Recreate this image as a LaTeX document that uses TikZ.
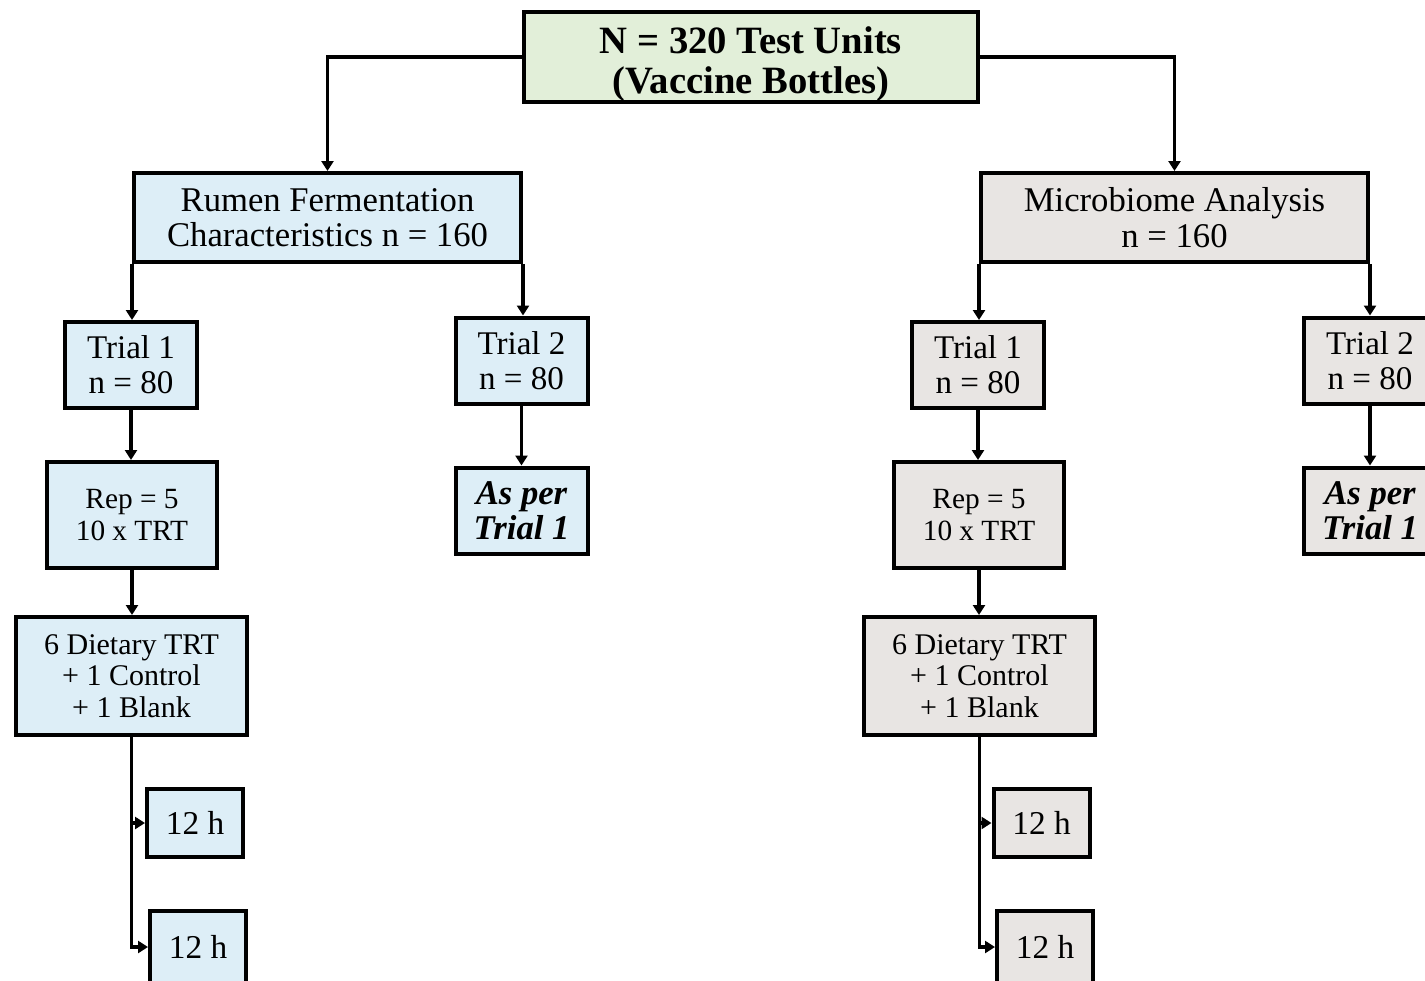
\documentclass[tikz,border=0pt]{standalone}
\usepackage{fontspec}
\setmainfont{Liberation Serif}
\usetikzlibrary{arrows.meta}
\definecolor{fgreen}{HTML}{E2EFD9}
\definecolor{fblue}{HTML}{DDEEF7}
\definecolor{fgray}{HTML}{E8E5E3}
\tikzset{
  box/.style={draw=black, line width=3pt, inner sep=0pt, align=center},
  topbox/.style={box, fill=fgreen, minimum width=340.5pt, minimum height=64.5pt, font=\fontsize{29}{30}\selectfont\bfseries},
  bigbox/.style={box, minimum width=290.25pt, minimum height=66.75pt, font=\fontsize{26}{26.5}\selectfont},
  trialbox/.style={box, minimum width=99pt, minimum height=64.5pt, font=\fontsize{24.8}{26}\selectfont},
  asbox/.style={trialbox, font=\fontsize{26}{26}\selectfont\bfseries\itshape},
  repbox/.style={box, minimum width=127.5pt, minimum height=79.5pt, font=\fontsize{22}{24}\selectfont},
  dietbox/.style={box, minimum width=173.25pt, minimum height=88.5pt, font=\fontsize{22.5}{23.6}\selectfont},
  hbox/.style={box, minimum width=72pt, minimum height=51pt, font=\fontsize{25}{26}\selectfont},
  blue/.style={fill=fblue},
  gray/.style={fill=fgray},
  arr/.style={line width=2.6pt, -{Triangle[width=9pt,length=7.5pt]}}
}
\begin{document}
\begin{tikzpicture}[x=0.75pt,y=-0.75pt]
\useasboundingbox (0,0) rectangle (1425,981);
\clip (0,0) rectangle (1425,981);
% top
\node[topbox] (top) at (751,57) {\rule{0pt}{31pt}N = 320 Test Units\\(Vaccine Bottles)};
% left branch
\node[bigbox, blue] (rumen) at (327.5,217.5) {Rumen Fermentation\\Characteristics n = 160};
\node[trialbox, blue] (t1L) at (131,365) {Trial 1\\n = 80};
\node[trialbox, blue] (t2L) at (521.5,360.5) {Trial 2\\n = 80};
\node[asbox, blue] (asL) at (521.5,510.5) {As per\\Trial 1};
\node[repbox, blue] (repL) at (132,515) {Rep = 5\\10 x TRT};
\node[dietbox, blue] (dietL) at (131.5,676) {6 Dietary TRT\\+ 1 Control\\+ 1 Blank};
\node[hbox, blue] (h1L) at (195,823) {12 h};
\node[hbox, blue, minimum height=54pt] (h2L) at (198,947) {12 h};
% right branch
\node[bigbox, gray] (micro) at (1174.5,217.5) {Microbiome Analysis\\n = 160};
\node[trialbox, gray] (t1R) at (978,365) {Trial 1\\n = 80};
\node[trialbox, gray] (t2R) at (1370,360.5) {Trial 2\\n = 80};
\node[asbox, gray] (asR) at (1370,510.5) {As per\\Trial 1};
\node[repbox, gray] (repR) at (979,515) {Rep = 5\\10 x TRT};
\node[dietbox, gray] (dietR) at (979.5,676) {6 Dietary TRT\\+ 1 Control\\+ 1 Blank};
\node[hbox, gray] (h1R) at (1041.5,823) {12 h};
\node[hbox, gray, minimum height=54pt] (h2R) at (1045,947) {12 h};
% connectors
\draw[arr] (top.west) -| (rumen.north);
\draw[arr] (top.east) -| (micro.north);
\draw[arr] (rumen.south west) -- (rumen.south west |- t1L.north);
\draw[arr] (rumen.south east) -- (rumen.south east |- t2L.north);
\draw[arr] (t2L.south) -- (asL.north);
\draw[arr] (t1L.south) -- (t1L.south |- repL.north);
\draw[arr] (repL.south) -- (repL.south |- dietL.north);
\draw[arr] (dietL.south) |- (h1L.west);
\draw[arr] (dietL.south) |- (h2L.west);
\draw[arr] (micro.south west) -- (micro.south west |- t1R.north);
\draw[arr] (micro.south east) -- (micro.south east |- t2R.north);
\draw[arr] (t2R.south) -- (asR.north);
\draw[arr] (t1R.south) -- (t1R.south |- repR.north);
\draw[arr] (repR.south) -- (repR.south |- dietR.north);
\draw[arr] (dietR.south) |- (h1R.west);
\draw[arr] (dietR.south) |- (h2R.west);
\end{tikzpicture}
\end{document}
